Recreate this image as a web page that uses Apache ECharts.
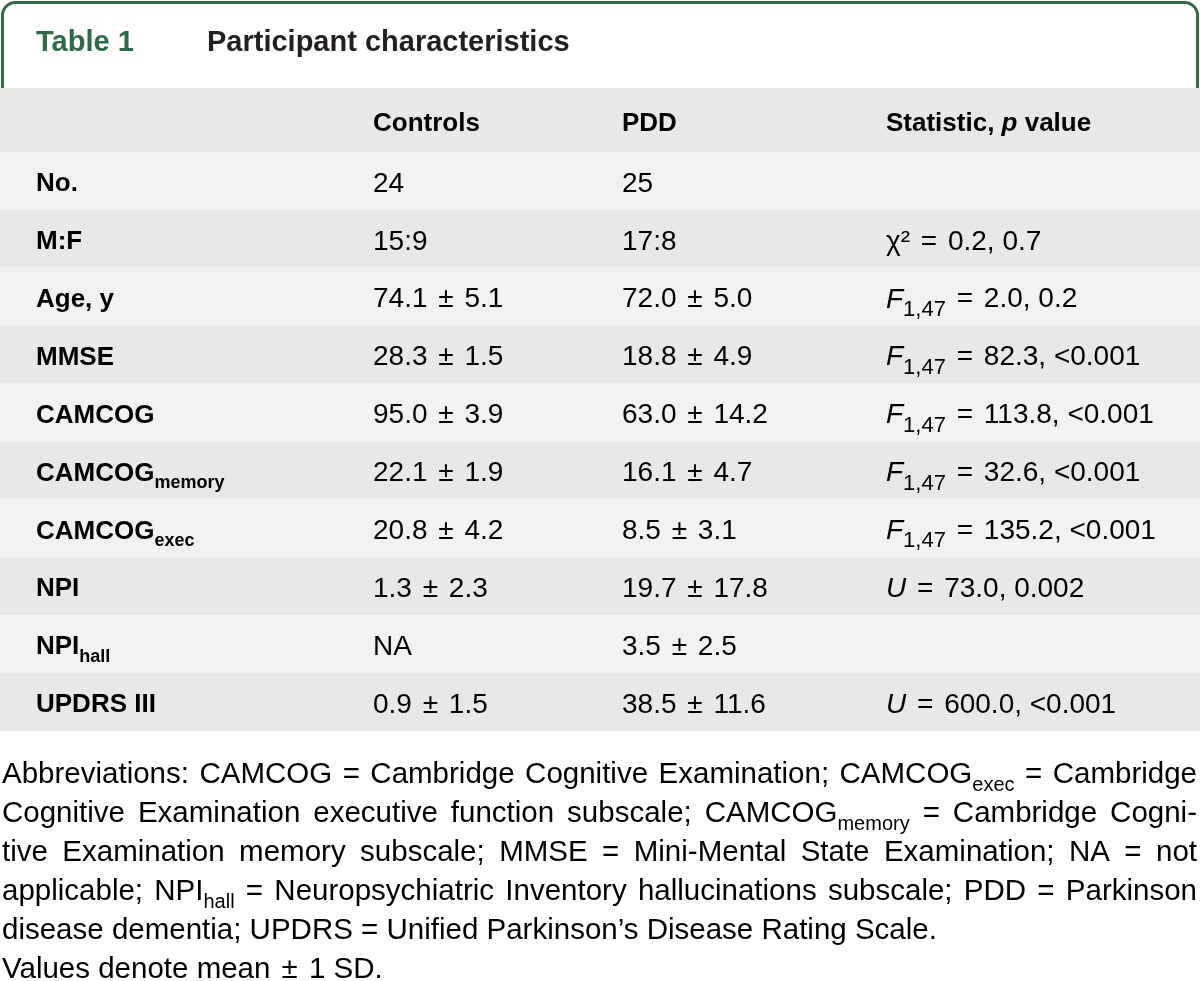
<!DOCTYPE html>
<html><head><meta charset="utf-8">
<script src="https://cdn.jsdelivr.net/npm/echarts@6/dist/echarts.min.js"></script>
<style>html,body{margin:0;padding:0;background:#fff}#c{width:1200px;height:981px}</style>
</head><body><div id="c"></div>
<script>
// ---------- data ----------
const tableNumber = 'Table 1';
const tableTitle = 'Participant characteristics';
const columnHeaders = ['', 'Controls', 'PDD', 'Statistic, *p* value'];
const rowLabels = ['No.', 'M:F', 'Age, y', 'MMSE', 'CAMCOG', 'CAMCOG_{memory}', 'CAMCOG_{exec}', 'NPI', 'NPI_{hall}', 'UPDRS III'];
const controlsValues = ['24', '15:9', '74.1 ± 5.1', '28.3 ± 1.5', '95.0 ± 3.9', '22.1 ± 1.9', '20.8 ± 4.2', '1.3 ± 2.3', 'NA', '0.9 ± 1.5'];
const pddValues = ['25', '17:8', '72.0 ± 5.0', '18.8 ± 4.9', '63.0 ± 14.2', '16.1 ± 4.7', '8.5 ± 3.1', '19.7 ± 17.8', '3.5 ± 2.5', '38.5 ± 11.6'];
const statisticValues = ['', 'χ² = 0.2, 0.7', '*F*_{1,47} = 2.0, 0.2', '*F*_{1,47} = 82.3, <0.001', '*F*_{1,47} = 113.8, <0.001',
  '*F*_{1,47} = 32.6, <0.001', '*F*_{1,47} = 135.2, <0.001', '*U* = 73.0, 0.002', '', '*U* = 600.0, <0.001'];
const footnoteLines = [
  'Abbreviations: CAMCOG = Cambridge Cognitive Examination; CAMCOG_{exec} = Cambridge',
  'Cognitive Examination executive function subscale; CAMCOG_{memory} = Cambridge Cogni-',
  'tive Examination memory subscale; MMSE = Mini-Mental State Examination; NA = not',
  'applicable; NPI_{hall} = Neuropsychiatric Inventory hallucinations subscale; PDD = Parkinson',
  'disease dementia; UPDRS = Unified Parkinson’s Disease Rating Scale.',
  'Values denote mean ± 1 SD.'
];
const footnoteJustified = [true, true, true, true, false, false];

// ---------- layout / style ----------
const W = 1200;
const COL_X = [36, 373, 622, 886];
const TEXT_DY = 3;
const GREEN = '#2d6a47';
const INK = '#231f20';
const VAL_INK = '#2b2b2b';
const DARK_ROW = '#e7e8e7';
const LIGHT_ROW = '#f2f2f2';
const FONT = '"Liberation Sans", Arial, Helvetica, sans-serif';

function styleSet(prefix, size, weight, color, subRatio, opPad) {
  const base = {fontFamily: FONT, fontSize: size, fontWeight: weight, color: color, lineHeight: 44};
  const s = {};
  s[prefix] = Object.assign({}, base);
  s[prefix + 'i'] = Object.assign({}, base, {fontStyle: 'italic'});
  s[prefix + 'sub'] = Object.assign({}, base, {fontSize: Math.round(size * subRatio), lineHeight: 22, padding: [Math.round(size * 0.72), 0, 0, 0]});
  s[prefix + 'pm'] = Object.assign({}, base, {padding: [0, opPad, 0, opPad]});
  s[prefix + 'op'] = Object.assign({}, base, {padding: [0, opPad, 0, opPad]});
  return s;
}
const RICH = Object.assign({},
  styleSet('L', 26, 'bold', INK, 0.68, 3),
  styleSet('H', 26, 'bold', INK, 0.68, 3),
  styleSet('V', 28, 'normal', VAL_INK, 0.78, 3),
  styleSet('F', 29.5, 'normal', INK, 0.68, 3)
);

function toRich(s, p, opPadEq) {
  let out = '', buf = '', i = 0;
  const flush = () => { if (buf) { out += '{' + p + '|' + buf + '}'; buf = ''; } };
  while (i < s.length) {
    const c = s[i];
    if (c === '*') {
      const j = s.indexOf('*', i + 1); flush();
      out += '{' + p + 'i|' + s.slice(i + 1, j) + '}'; i = j + 1;
    } else if (c === '_' && s[i + 1] === '{') {
      const j = s.indexOf('}', i); flush();
      out += '{' + p + 'sub|' + s.slice(i + 2, j) + '}'; i = j + 1;
    } else if (c === '±') {
      flush(); out += '{' + p + 'pm|±}'; i++;
    } else if (opPadEq && c === '=') {
      flush(); out += '{' + p + 'op|=}'; i++;
    } else { buf += c; i++; }
  }
  flush();
  return out;
}

// ---------- cells ----------
const columns = [rowLabels, controlsValues, pddValues, statisticValues];
const cells = [];
columns.forEach((col, c) => col.forEach((txt, r) => {
  if (txt) cells.push({value: [COL_X[c], r], text: toRich(txt, c === 0 ? 'L' : 'V', c === 3)});
}));

// ---------- footnote (justified) ----------
const ctx = document.createElement('canvas').getContext('2d');
function measurePart(txt, size) {
  ctx.font = size + 'px ' + FONT;
  return ctx.measureText(txt).width;
}
function measureWord(w) {
  const size = RICH.F.fontSize, sub = RICH.Fsub.fontSize;
  let total = 0;
  const re = /_\{([^}]*)\}/g; let last = 0, m;
  while ((m = re.exec(w))) {
    total += measurePart(w.slice(last, m.index), size);
    total += measurePart(m[1], sub);
    last = re.lastIndex;
  }
  total += measurePart(w.slice(last), size);
  return total;
}
const FOOT_LEFT = 2, FOOT_RIGHT = 1197, FOOT_TOP = 775, FOOT_STEP = 39;
const footGraphics = [];
footnoteLines.forEach((line, li) => {
  const y = FOOT_TOP + li * FOOT_STEP;
  if (!footnoteJustified[li]) {
    footGraphics.push({type: 'text', x: FOOT_LEFT, y: y, style: {text: toRich(line, 'F', false), rich: RICH, verticalAlign: 'middle', align: 'left'}});
    return;
  }
  const words = line.split(' ');
  const widths = words.map(measureWord);
  const sum = widths.reduce((a, b) => a + b, 0);
  const gap = (FOOT_RIGHT - FOOT_LEFT - sum) / (words.length - 1);
  let x = FOOT_LEFT;
  words.forEach((w, k) => {
    footGraphics.push({type: 'text', x: x, y: y, style: {text: toRich(w, 'F', false), rich: RICH, verticalAlign: 'middle', align: 'left'}});
    x += widths[k] + gap;
  });
});

// ---------- chart ----------
const chart = echarts.init(document.getElementById('c'), null, {renderer: 'canvas'});
chart.setOption({
  animation: false,
  backgroundColor: '#ffffff',
  grid: {left: 0, right: 0, top: 152, height: 579, containLabel: false},
  xAxis: {type: 'value', min: 0, max: W, show: false},
  yAxis: {type: 'category', data: rowLabels, inverse: true, show: false},
  graphic: [
    {type: 'rect', z: 1, shape: {x: 2.5, y: 2.5, width: 1195, height: 140, r: 13}, style: {fill: '#fff', stroke: GREEN, lineWidth: 3}},
    {type: 'rect', z: 2, shape: {x: 0, y: 88, width: W, height: 64}, style: {fill: DARK_ROW}},
    {type: 'text', z: 3, x: 36, y: 43, style: {text: tableNumber, fill: GREEN, font: 'bold 29px ' + FONT, verticalAlign: 'middle'}},
    {type: 'text', z: 3, x: 207, y: 43, style: {text: tableTitle, fill: INK, font: 'bold 29px ' + FONT, verticalAlign: 'middle'}}
  ].concat(columnHeaders.map((h, c) => h ? {type: 'text', z: 3, x: COL_X[c], y: 121 + TEXT_DY, style: {text: toRich(h, 'H', false), rich: RICH, verticalAlign: 'middle', align: 'left'}} : null).filter(Boolean))
   .concat(footGraphics.map(g => Object.assign({z: 3}, g))),
  series: [
    {
      type: 'custom', name: 'rows', silent: true, z: 1,
      data: rowLabels.map((_, r) => [0, r]),
      encode: {x: 0, y: 1},
      renderItem: (params, api) => {
        const r = api.value(1);
        const p0 = api.coord([0, r]);
        const p1 = api.coord([W, r]);
        const h = api.size([0, 1])[1];
        return {type: 'rect', shape: {x: p0[0], y: p0[1] - h / 2, width: p1[0] - p0[0], height: h},
          style: {fill: r % 2 === 0 ? LIGHT_ROW : DARK_ROW}};
      }
    },
    {
      type: 'custom', name: 'cells', silent: true, z: 2,
      data: cells.map(c => c.value),
      encode: {x: 0, y: 1},
      renderItem: (params, api) => {
        const p = api.coord([api.value(0), api.value(1)]);
        return {type: 'text', x: p[0], y: p[1] + TEXT_DY,
          style: {text: cells[params.dataIndex].text, rich: RICH, align: 'left', verticalAlign: 'middle'}};
      }
    }
  ]
});
</script></body></html>
